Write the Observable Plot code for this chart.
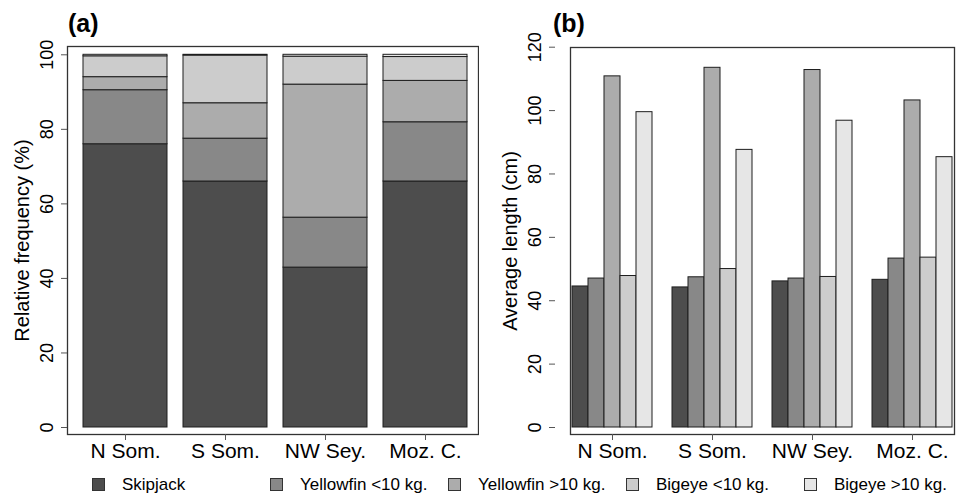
<!DOCTYPE html>
<html>
<head>
<meta charset="utf-8">
<script src="https://cdn.jsdelivr.net/npm/d3@7"></script>
<script src="https://cdn.jsdelivr.net/npm/@observablehq/plot@0.6"></script>
<style>
  body { margin: 0; background: #fff; font-family: "Liberation Sans", Arial, sans-serif; }
  #fig { position: relative; width: 958px; height: 495px; overflow: hidden; background: #fff; }
  .panel { position: absolute; top: 0; }
  .tag { position: absolute; top: 11px; font-size: 25px; line-height: 25px; font-weight: bold; color: #000; }
  .item { position: absolute; top: 476px; font-size: 17px; line-height: 17px; color: #000; white-space: nowrap; }
  .item span.sw { position: absolute; left: 0; top: 2px; width: 11px; height: 11px; border: 1px solid #333; }
  .item span.tx { position: absolute; left: 30px; top: 0; }
</style>
</head>
<body>
<div id="fig">
  <div class="panel" id="panelA" style="left:0"></div>
  <div class="panel" id="panelB" style="left:479px"></div>
  <div class="tag" style="left:68px">(a)</div>
  <div class="tag" style="left:553px">(b)</div>
  <div id="legend"></div>
</div>
<script>
// Fishing areas and catch categories
const regions = ["N Som.", "S Som.", "NW Sey.", "Moz. C."];
const species = ["Skipjack", "Yellowfin <10 kg.", "Yellowfin >10 kg.", "Bigeye <10 kg.", "Bigeye >10 kg."];
const shades = ["#4d4d4d", "#888888", "#acacac", "#cccccc", "#e6e6e6"];

// (a) relative frequency (%) of each category, per area (same order as species)
const freqNSom  = [76.0, 14.5, 3.5, 5.6, 0.4];
const freqSSom  = [66.0, 11.5, 9.5, 12.8, 0.2];
const freqNWSey = [42.9, 13.4, 35.7, 7.5, 0.5];
const freqMozC  = [66.0, 15.9, 11.1, 6.4, 0.6];

// (b) average length (cm) of each category, per area
const lenNSom  = [44.5, 47.0, 110.8, 47.8, 99.5];
const lenSSom  = [44.2, 47.4, 113.5, 50.0, 87.6];
const lenNWSey = [46.1, 47.0, 112.8, 47.5, 96.8];
const lenMozC  = [46.6, 53.3, 103.2, 53.6, 85.3];

const freqTicks = [0, 20, 40, 60, 80, 100];
const lenTicks = [0, 20, 40, 60, 80, 100, 120];

const toRows = (series) => series.flatMap((vals, i) =>
  vals.map((value, j) => ({region: regions[i], species: species[j], value})));
const freqRows = toRows([freqNSom, freqSSom, freqNWSey, freqMozC]);
const lenRows = toRows([lenNSom, lenSSom, lenNWSey, lenMozC]);

const font = {fontFamily: "'Liberation Sans', Arial, sans-serif", fontSize: "18px", color: "#000", background: "white", overflow: "visible"};
const color = {domain: species, range: shades};

// Panel (a): stacked composition bars
const plotA = Plot.plot({
  width: 479, height: 462,
  marginLeft: 67, marginRight: 1, marginTop: 46, marginBottom: 28,
  style: font,
  x: {domain: regions, range: [82, 468], paddingInner: 0.16, paddingOuter: 0},
  y: {domain: [0, 100], range: [427, 54.3]},
  color,
  marks: [
    Plot.barY(freqRows, {x: "region", y: "value", fill: "species", stroke: "#1e1e1e", strokeWidth: 1}),
    Plot.frame({stroke: "#333", strokeWidth: 1.3}),
    Plot.axisY({ticks: freqTicks, tickSize: 6, tickRotate: -90, tickPadding: 9, fontSize: 18, stroke: "#555", label: null}),
    Plot.axisX({tickSize: 6, tickPadding: 3, fontSize: 21, stroke: "#555", label: null}),
    Plot.text(["Relative frequency (%)"], {frameAnchor: "left", textAnchor: "middle", rotate: -90, dx: -45, fontSize: 20, fill: "#000"})
  ]
});
document.getElementById("panelA").append(plotA);

// Panel (b): grouped mean-length bars, one facet per area
const plotB = Plot.plot({
  width: 479, height: 462,
  marginLeft: 75, marginRight: 0, marginTop: 47, marginBottom: 28,
  style: font,
  fx: {domain: regions, range: [90, 476], paddingInner: 0.16, paddingOuter: 0},
  x: {domain: species, padding: 0, axis: null},
  y: {domain: [0, 120], range: [427, 46.7]},
  color,
  marks: [
    Plot.barY(lenRows, {fx: "region", x: "species", y: "value", fill: "species", stroke: "#1e1e1e", strokeWidth: 1}),
    Plot.frame({facet: "super", stroke: "#333", strokeWidth: 1.3}),
    // the y axis sits on the panel frame, to the left of the first group
    Plot.axisY({ticks: lenTicks, tickSize: 6, tickRotate: -90, tickPadding: 9, fontSize: 18, stroke: "#555", label: null, dx: -15}),
    Plot.axisFx({anchor: "bottom", tickSize: 6, tickPadding: 3, fontSize: 21, stroke: "#555", label: null}),
    Plot.text(["Average length (cm)"], {facet: "super", frameAnchor: "left", textAnchor: "middle", rotate: -90, dx: -60, fontSize: 20, fill: "#000"})
  ]
});
document.getElementById("panelB").append(plotB);

// Shared legend along the bottom
const legend = document.getElementById("legend");
species.forEach((name, i) => {
  const item = document.createElement("div");
  item.className = "item";
  item.style.left = (92 + i * 178) + "px";
  const sw = document.createElement("span");
  sw.className = "sw";
  sw.style.background = shades[i];
  const tx = document.createElement("span");
  tx.className = "tx";
  tx.textContent = name;
  item.append(sw, tx);
  legend.append(item);
});
</script>
</body>
</html>
